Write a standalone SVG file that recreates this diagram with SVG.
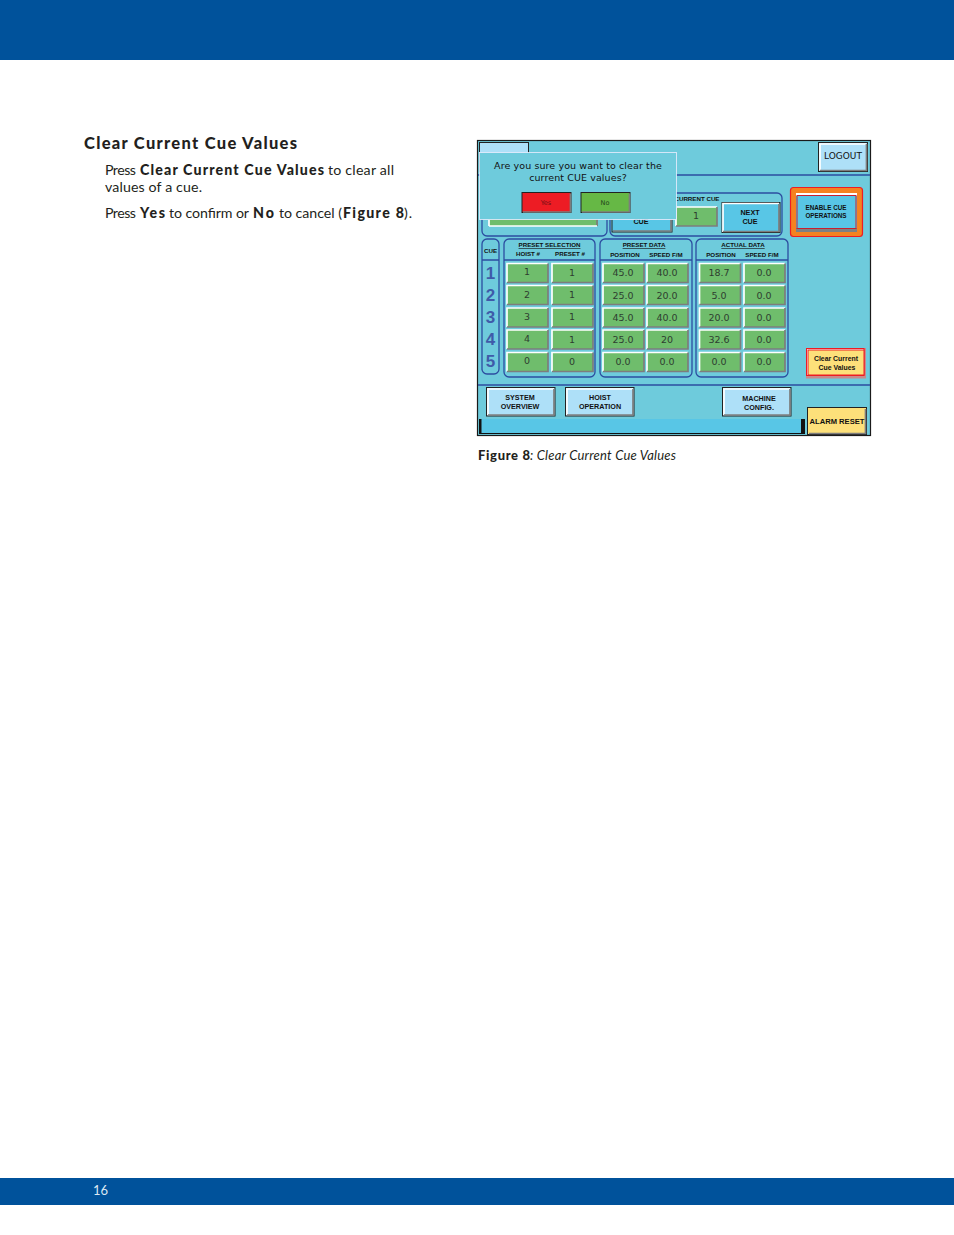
<svg xmlns="http://www.w3.org/2000/svg" width="954" height="1235" viewBox="0 0 954 1235">
<style>
.page{font-family:"Lato","Liberation Sans",sans-serif;fill:#231f20;font-size:14.2px}
.b{font-weight:900}
.i{font-style:italic}
.s{font-family:"DejaVu Sans","Liberation Sans",sans-serif;fill:#111;text-anchor:middle}
.v{font-size:9.5px;fill:#2e3d30}
.h{font-size:6.2px;font-weight:700;font-family:"Liberation Sans",sans-serif}
.u{text-decoration:underline}
.btn{font-size:7.2px;font-family:"Liberation Sans",sans-serif;font-weight:700}
.num{font-size:17px;font-weight:700;fill:#3f5ba9;font-family:"Liberation Sans",sans-serif}
.pan{fill:none;stroke:#2c4da0;stroke-width:1.3}
.line{stroke:#2c4da0;stroke-width:1.3;fill:none}
.hi{fill:none;stroke:#fff;stroke-width:1.7}
.lo{fill:none;stroke:#7d7d7d;stroke-width:1.7}
.dlg{font-size:9.5px;letter-spacing:.1px}
</style>
<defs>
<g id="cell">
<rect width="41" height="19" fill="#6fbd6c"/>
<path class="hi" d="M0,19V0H41"/>
<path class="lo" d="M41,0V19H0"/>
</g>
</defs>
<rect width="954" height="1235" fill="#fff"/>
<rect id="header-band" width="954" height="60" fill="#00529b"/>
<rect id="footer-band" y="1178" width="954" height="27" fill="#00529b"/>
<text x="93" y="1195" class="page" style="fill:#dce8f3;font-size:13px">16</text>

<g id="body-text">
<text x="84" y="149" class="page b" style="font-size:16.5px" textLength="213" lengthAdjust="spacing">Clear Current Cue Values</text>
<text x="105" y="175" class="page" textLength="31">Press</text>
<text x="140" y="175" class="page b" textLength="184">Clear Current Cue Values</text>
<text x="328" y="175" class="page" textLength="66">to clear all</text>
<text x="105" y="192" class="page" textLength="97">values of a cue.</text>
<text x="105" y="218" class="page" textLength="31">Press</text>
<text x="140" y="218" class="page b" textLength="25">Yes</text>
<text x="169" y="218" class="page" textLength="80">to confirm or</text>
<text x="253" y="218" class="page b" textLength="21">No</text>
<text x="279" y="218" class="page" textLength="63">to cancel (</text>
<text x="343" y="218" class="page b" textLength="61">Figure 8</text>
<text x="404" y="218" class="page" textLength="8">).</text>
</g>

<g id="screen">
<rect x="477.500" y="140.500" width="393" height="295" fill="#6ecbdc" stroke="#1a1a1a" stroke-width="1.2"/>
<path class="line" d="M478,175H870M478,385H870"/>
<rect x="480" y="419" width="322" height="14" fill="#58c6e6"/>
<rect x="479" y="419" width="2.500" height="14.500" fill="#111"/>
<rect x="801" y="419" width="4" height="14.500" fill="#111"/>
<path d="M479,433.500H805" stroke="#111" stroke-width="1"/>

<g id="logout">
<rect x="818.500" y="142.500" width="49" height="29" fill="#aee0f8" stroke="#222" stroke-width="1"/>
<path class="hi" d="M820,170V144H866"/><path class="lo" d="M866.500,144V170.500H820"/>
<text x="843" y="159" class="s" style="font-size:9px">LOGOUT</text>
</g>
<g id="hidden-button">
<rect x="479.500" y="142.500" width="49" height="29" fill="#aee0f8" stroke="#222" stroke-width="1"/>
</g>

<g id="cue-panel-left">
<path class="pan" d="M482,175V231a5,5 0 0 0 5,5H602a5,5 0 0 0 5-5V175"/>
<rect x="489" y="219" width="109" height="7" fill="#6fbd6c"/>
<path class="hi" d="M489,226V220"/><path class="lo" d="M597,219V226"/><path class="hi" d="M489,226H597"/>
</g>
<g id="current-cue-panel">
<path class="pan" d="M610,231a5,5 0 0 0 5,5H777a5,5 0 0 0 5-5V198a5,5 0 0 0-5-5H615a5,5 0 0 0-5,5Z"/>
<text x="697" y="201" class="s h">CURRENT CUE</text>
<use href="#cell" x="676" y="207"/>
<text x="696" y="219" class="s v">1</text>
</g>
<g id="prev-cue">
<rect x="612" y="200" width="60" height="32" fill="#58c6e6" stroke="#222" stroke-width="1"/>
<path class="lo" d="M671,201V231H613"/>
<text x="641" y="224" class="s btn">CUE</text>
</g>
<g id="next-cue">
<rect x="722" y="202.500" width="58" height="30" fill="#58c6e6" stroke="#222" stroke-width="1"/>
<path class="hi" d="M723,232V203.500H779"/><path class="lo" d="M779,204V231.500H723"/>
<text x="750" y="215" class="s btn">NEXT</text>
<text x="750" y="224" class="s btn">CUE</text>
</g>
<g id="enable-cue">
<rect x="790.500" y="187.500" width="72" height="49" rx="3" fill="#f58220" stroke="#ed1c24" stroke-width="1.200"/>
<rect x="796" y="193" width="61" height="39" fill="#58c6e6"/>
<path d="M796,193H857V196H796Z" fill="#fff"/>
<path d="M796,228H857V232H796Z" fill="#808080"/>
<rect x="797" y="195.500" width="59" height="33" fill="#58c6e6" stroke="#c8202f" stroke-width="1"/>
<text x="826" y="210" class="s" style="font-size:6.300px;font-weight:700;font-family:'Liberation Sans',sans-serif">ENABLE CUE</text>
<text x="826" y="218" class="s" style="font-size:6.300px;font-weight:700;font-family:'Liberation Sans',sans-serif">OPERATIONS</text>
</g>

<g id="cue-column">
<path class="pan" d="M482,370V244a5,5 0 0 1 5-5H494a5,5 0 0 1 5,5V369a5,5 0 0 1-5,5H487a5,5 0 0 1-5-5ZM482,260H499"/>
<text x="490.500" y="253" class="s h">CUE</text>
<text x="490.500" y="279" class="s num">1</text>
<text x="490.500" y="301" class="s num">2</text>
<text x="490.500" y="323" class="s num">3</text>
<text x="490.500" y="345" class="s num">4</text>
<text x="490.500" y="367" class="s num">5</text>
</g>

<g id="preset-selection">
<path class="pan" d="M504,244a5,5 0 0 1 5-5H590a5,5 0 0 1 5,5V372a5,5 0 0 1-5,5H509a5,5 0 0 1-5-5ZM504,260H595"/>
<text x="549.500" y="247" class="s h u">PRESET SELECTION</text>
<text x="528" y="256" class="s h">HOIST #</text>
<text x="570" y="256" class="s h">PRESET #</text>
<use href="#cell" x="507" y="263.500"/><use href="#cell" x="552" y="263.500"/>
<use href="#cell" x="507" y="285.500"/><use href="#cell" x="552" y="285.500"/>
<use href="#cell" x="507" y="308"/><use href="#cell" x="552" y="308"/>
<use href="#cell" x="507" y="330"/><use href="#cell" x="552" y="330"/>
<use href="#cell" x="507" y="352.500"/><use href="#cell" x="552" y="352.500"/>
<text x="527" y="275" class="s v">1</text><text x="572" y="276" class="s v">1</text>
<text x="527" y="298" class="s v">2</text><text x="572" y="298" class="s v">1</text>
<text x="527" y="320" class="s v">3</text><text x="572" y="320" class="s v">1</text>
<text x="527" y="342" class="s v">4</text><text x="572" y="343" class="s v">1</text>
<text x="527" y="364" class="s v">0</text><text x="572" y="365" class="s v">0</text>
</g>

<g id="preset-data">
<path class="pan" d="M600,244a5,5 0 0 1 5-5H687a5,5 0 0 1 5,5V372a5,5 0 0 1-5,5H605a5,5 0 0 1-5-5ZM600,260H692"/>
<text x="644" y="247" class="s h u">PRESET DATA</text>
<text x="625" y="257" class="s h">POSITION</text>
<text x="666" y="257" class="s h">SPEED F/M</text>
<use href="#cell" x="603" y="263.500"/><use href="#cell" x="647" y="263.500"/>
<use href="#cell" x="603" y="285.500"/><use href="#cell" x="647" y="285.500"/>
<use href="#cell" x="603" y="308"/><use href="#cell" x="647" y="308"/>
<use href="#cell" x="603" y="330"/><use href="#cell" x="647" y="330"/>
<use href="#cell" x="603" y="352.500"/><use href="#cell" x="647" y="352.500"/>
<text x="623" y="276" class="s v">45.0</text><text x="667" y="276" class="s v">40.0</text>
<text x="623" y="299" class="s v">25.0</text><text x="667" y="299" class="s v">20.0</text>
<text x="623" y="321" class="s v">45.0</text><text x="667" y="321" class="s v">40.0</text>
<text x="623" y="343" class="s v">25.0</text><text x="667" y="343" class="s v">20</text>
<text x="623" y="365" class="s v">0.0</text><text x="667" y="365" class="s v">0.0</text>
</g>

<g id="actual-data">
<path class="pan" d="M696,244a5,5 0 0 1 5-5H783a5,5 0 0 1 5,5V372a5,5 0 0 1-5,5H701a5,5 0 0 1-5-5ZM696,260H788"/>
<text x="743" y="247" class="s h u">ACTUAL DATA</text>
<text x="721" y="257" class="s h">POSITION</text>
<text x="762" y="257" class="s h">SPEED F/M</text>
<use href="#cell" x="699.500" y="263.500"/><use href="#cell" x="744" y="263.500"/>
<use href="#cell" x="699.500" y="285.500"/><use href="#cell" x="744" y="285.500"/>
<use href="#cell" x="699.500" y="308"/><use href="#cell" x="744" y="308"/>
<use href="#cell" x="699.500" y="330"/><use href="#cell" x="744" y="330"/>
<use href="#cell" x="699.500" y="352.500"/><use href="#cell" x="744" y="352.500"/>
<text x="719" y="276" class="s v">18.7</text><text x="764" y="276" class="s v">0.0</text>
<text x="719" y="299" class="s v">5.0</text><text x="764" y="299" class="s v">0.0</text>
<text x="719" y="321" class="s v">20.0</text><text x="764" y="321" class="s v">0.0</text>
<text x="719" y="343" class="s v">32.6</text><text x="764" y="343" class="s v">0.0</text>
<text x="719" y="365" class="s v">0.0</text><text x="764" y="365" class="s v">0.0</text>
</g>

<g id="clear-current">
<rect x="806" y="348" width="60" height="30.500" fill="#c98a8a"/>
<rect x="806.500" y="348.500" width="57.500" height="27" fill="#fff" stroke="#ed1c24" stroke-width="1"/>
<rect x="808" y="350" width="56" height="25" fill="#fde07a" stroke="#ed1c24" stroke-width="1"/>
<text x="836" y="361" class="s btn" style="font-size:6.900px">Clear Current</text>
<text x="837" y="370" class="s btn" style="font-size:6.900px">Cue Values</text>
</g>
<g id="system-overview">
<rect x="486.500" y="387.500" width="68.500" height="28.500" fill="#aee0f8" stroke="#222" stroke-width="1"/>
<path class="hi" d="M488,415V389H554"/><path class="lo" d="M554,389V415H488"/>
<text x="520" y="400" class="s btn">SYSTEM</text>
<text x="520" y="409" class="s btn">OVERVIEW</text>
</g>
<g id="hoist-operation">
<rect x="565.500" y="387.500" width="68.500" height="28.500" fill="#aee0f8" stroke="#222" stroke-width="1"/>
<path class="hi" d="M567,415V389H633"/><path class="lo" d="M633,389V415H567"/>
<text x="600" y="400" class="s btn">HOIST</text>
<text x="600" y="409" class="s btn">OPERATION</text>
</g>
<g id="machine-config">
<rect x="722.500" y="387.500" width="68.500" height="28.500" fill="#aee0f8" stroke="#222" stroke-width="1"/>
<path class="hi" d="M724,415V389H790"/><path class="lo" d="M790,389V415H724"/>
<text x="759" y="401" class="s btn">MACHINE</text>
<text x="759" y="410" class="s btn">CONFIG.</text>
</g>
<g id="alarm-reset">
<rect x="807.500" y="407.500" width="59" height="27" fill="#fde07a" stroke="#222" stroke-width="1"/>
<path class="lo" d="M865.500,409V433.500H809"/>
<text x="837" y="424" class="s btn" style="font-size:7.600px">ALARM RESET</text>
</g>

<g id="dialog">
<rect x="479.500" y="152.500" width="197" height="67" fill="#6ecbdc" stroke="#eef" stroke-width="0.800"/>
<text x="578" y="169" class="s dlg">Are you sure you want to clear the</text>
<text x="578" y="181" class="s dlg">current CUE values?</text>
<g id="yes-button">
<rect x="522" y="192.500" width="49" height="20" fill="#ed1c24" stroke="#222" stroke-width="1"/>
<path class="lo" d="M570.500,193.500V212H523"/>
<text x="546" y="205" class="s" style="font-size:6.500px;fill:#6a1014">Yes</text>
</g>
<g id="no-button">
<rect x="581" y="192.500" width="49" height="20" fill="#66b845" stroke="#222" stroke-width="1"/>
<path class="lo" d="M629.500,193.500V212H582"/>
<text x="605" y="205" class="s" style="font-size:6.500px;fill:#1f4518">No</text>
</g>
</g>
</g>

<g id="caption">
<text x="478" y="460" class="page b" style="font-size:13px" textLength="52">Figure 8</text>
<text x="530" y="460" class="page i" style="font-size:13px" textLength="146">: Clear Current Cue Values</text>
</g>
</svg>
